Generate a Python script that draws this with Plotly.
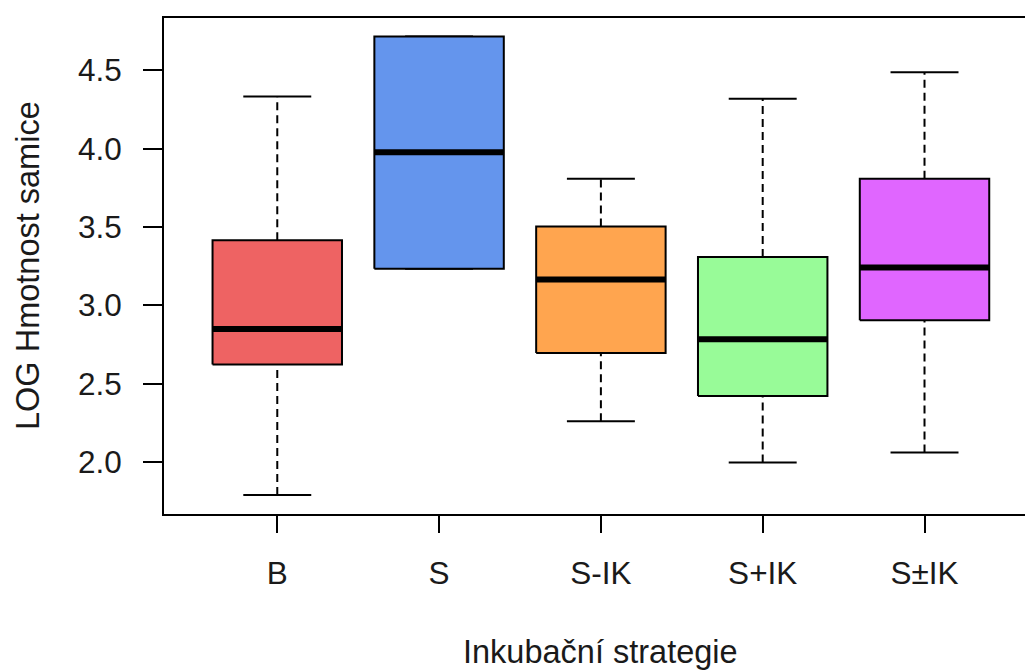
import plotly.graph_objects as go

# Five-number summaries per incubation strategy (log female mass)
categories = ["B", "S", "S-IK", "S+IK", "S±IK"]
lower_whisker = [1.788, 3.234, 2.260, 1.996, 2.060]
q1 = [2.622, 3.234, 2.696, 2.420, 2.905]
median = [2.849, 3.977, 3.164, 2.783, 3.241]
q3 = [3.415, 4.717, 3.504, 3.309, 3.809]
upper_whisker = [4.334, 4.717, 3.809, 4.319, 4.489]
fill_colors = ["#EE6363", "#6495ED", "#FFA54F", "#98FB98", "#E066FF"]

y_ticks = [2.0, 2.5, 3.0, 3.5, 4.0, 4.5]

BOX_HALF = 0.4
CAP_HALF = 0.21
FONT = "Liberation Sans, Arial, sans-serif"
TEXT_COLOR = "#1a1a1a"

fig = go.Figure()

for i, cat in enumerate(categories):
    x = i + 1
    # dashed whiskers
    fig.add_trace(go.Scatter(
        x=[x, x, None, x, x],
        y=[lower_whisker[i], q1[i], None, q3[i], upper_whisker[i]],
        mode="lines", line=dict(color="black", width=2, dash="8px,5px"),
        hoverinfo="skip", showlegend=False))
    # whisker caps
    fig.add_trace(go.Scatter(
        x=[x - CAP_HALF, x + CAP_HALF, None, x - CAP_HALF, x + CAP_HALF],
        y=[lower_whisker[i], lower_whisker[i], None, upper_whisker[i], upper_whisker[i]],
        mode="lines", line=dict(color="black", width=2),
        hoverinfo="skip", showlegend=False))
    # box
    fig.add_trace(go.Scatter(
        x=[x - BOX_HALF, x + BOX_HALF, x + BOX_HALF, x - BOX_HALF, x - BOX_HALF],
        y=[q1[i], q1[i], q3[i], q3[i], q1[i]],
        mode="lines", fill="toself", fillcolor=fill_colors[i],
        line=dict(color="black", width=2),
        name=cat, showlegend=False))
    # median
    fig.add_trace(go.Scatter(
        x=[x - BOX_HALF, x + BOX_HALF],
        y=[median[i], median[i]],
        mode="lines", line=dict(color="black", width=6),
        hoverinfo="skip", showlegend=False))

fig.update_layout(
    width=1025, height=671,
    margin=dict(l=164, r=0, t=18, b=157),
    paper_bgcolor="white", plot_bgcolor="white",
    font=dict(family=FONT, size=31.5, color=TEXT_COLOR),
    showlegend=False,
    xaxis=dict(
        range=[0.3, 5.621],
        tickmode="array", tickvals=[1, 2, 3, 4, 5], ticktext=categories,
        ticks="outside", ticklen=17, tickwidth=2, tickcolor="black",
        showline=True, linecolor="black", linewidth=2, mirror=True,
        showgrid=False, zeroline=False, ticklabelstandoff=13,
    ),
    yaxis=dict(
        range=[1.667, 4.835],
        tickmode="array", tickvals=y_ticks,
        ticktext=[f"{v:.1f}" for v in y_ticks],
        ticks="outside", ticklen=19, tickwidth=2, tickcolor="black",
        showline=True, linecolor="black", linewidth=2,
        showgrid=False, zeroline=False, ticklabelstandoff=15,
    ),
    annotations=[
        dict(text="Inkubační strategie", xref="x", yref="paper",
             x=3, y=0, yshift=-138, xanchor="center", yanchor="middle",
             showarrow=False, font=dict(family=FONT, size=32.5, color=TEXT_COLOR)),
        dict(text="LOG Hmotnost samice", xref="paper", yref="paper",
             x=0, y=0.5, xshift=-136, xanchor="center", yanchor="middle",
             textangle=-90, showarrow=False,
             font=dict(family=FONT, size=32.5, color=TEXT_COLOR)),
    ],
)

fig.write_html("out.html")
